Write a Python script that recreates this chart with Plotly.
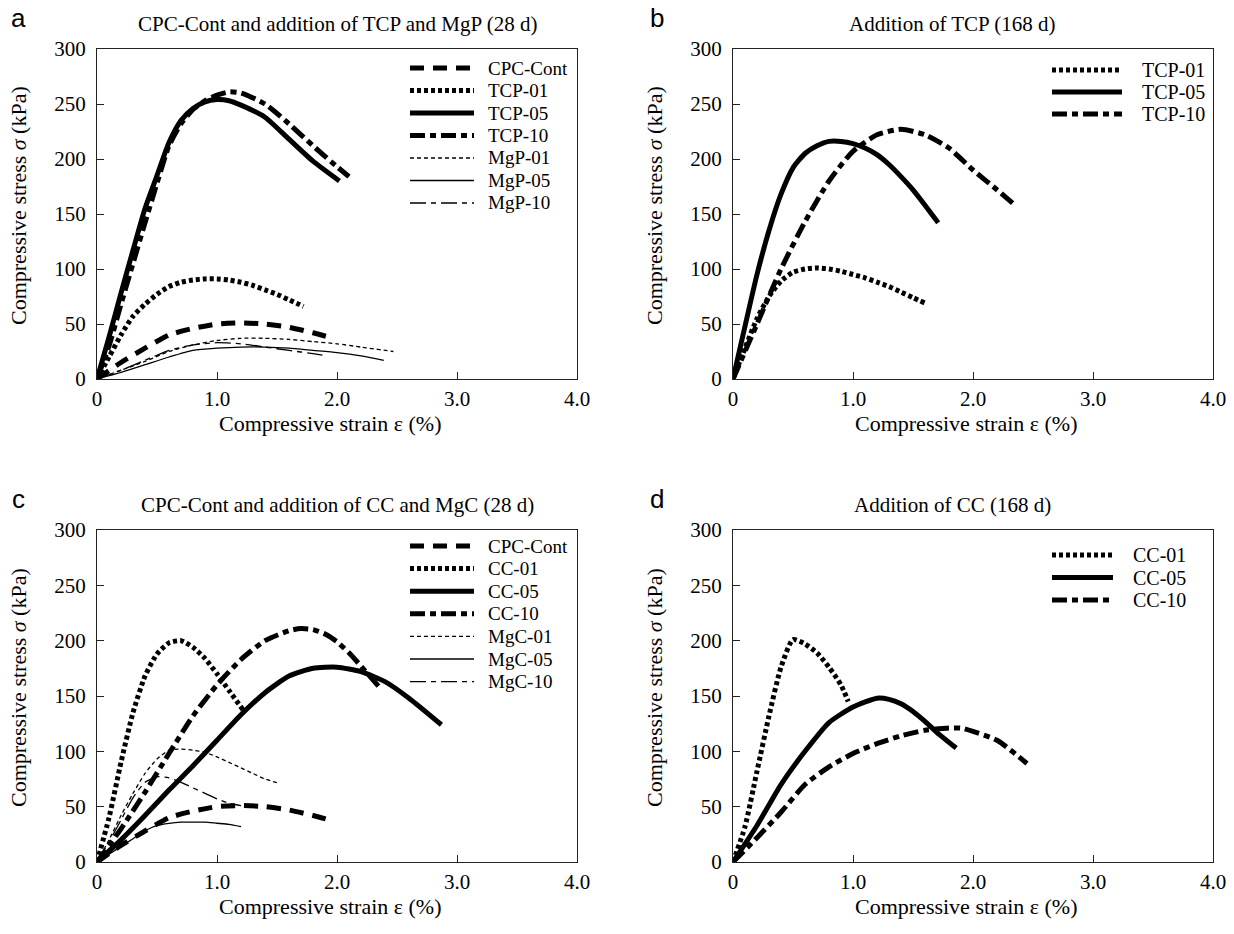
import plotly.graph_objects as go

# ---- data (strain %, stress kPa) ----
cpc_x = [0, 0.2, 0.4, 0.6, 0.8, 1.0, 1.2, 1.4, 1.6, 1.8, 1.97]
cpc_y = [0, 15, 28, 40, 46, 50, 51, 50, 47, 42, 37]

# panel a (28 d)
tcp01_x = [0, 0.1, 0.2, 0.3, 0.4, 0.5, 0.6, 0.7, 0.8, 0.9, 1.0, 1.1, 1.2, 1.3, 1.4, 1.5, 1.6, 1.72]
tcp01_y = [0, 20, 40, 57, 68, 77, 84, 88, 90, 91, 91, 90, 88, 85, 81, 77, 72, 66]
tcp05_x = [0, 0.1, 0.2, 0.3, 0.4, 0.5, 0.6, 0.7, 0.8, 0.9, 1.0, 1.1, 1.2, 1.4, 1.6, 1.8, 2.02]
tcp05_y = [0, 38, 78, 117, 155, 185, 215, 235, 246, 252, 254, 253, 249, 238, 218, 198, 180]
tcp10_x = [0, 0.1, 0.2, 0.3, 0.4, 0.5, 0.6, 0.7, 0.8, 0.9, 1.0, 1.1, 1.2, 1.4, 1.6, 1.8, 2.0, 2.1]
tcp10_y = [0, 30, 68, 105, 142, 178, 212, 232, 245, 253, 258, 261, 260, 250, 232, 212, 193, 184]
mgp01_x = [0, 0.2, 0.4, 0.6, 0.8, 1.0, 1.2, 1.4, 1.6, 1.8, 2.0, 2.2, 2.47]
mgp01_y = [0, 8, 16, 25, 31, 35, 37, 37, 36, 34, 32, 29, 25]
mgp05_x = [0, 0.2, 0.4, 0.6, 0.8, 1.0, 1.2, 1.4, 1.6, 1.8, 2.0, 2.2, 2.39]
mgp05_y = [0, 6, 13, 20, 26, 28, 29, 29, 28, 26, 24, 21, 17]
mgp10_x = [0, 0.2, 0.4, 0.6, 0.8, 1.0, 1.2, 1.4, 1.6, 1.8, 1.92]
mgp10_y = [0, 8, 17, 26, 31, 33, 32, 29, 26, 23, 21]

# panel b (168 d)
tcp01b_x = [0, 0.1, 0.2, 0.3, 0.4, 0.5, 0.6, 0.7, 0.8, 0.9, 1.0, 1.1, 1.2, 1.3, 1.4, 1.5, 1.6]
tcp01b_y = [0, 28, 55, 75, 89, 97, 100, 101, 100, 98, 95, 92, 88, 84, 79, 74, 69]
tcp05b_x = [0, 0.1, 0.2, 0.3, 0.4, 0.5, 0.6, 0.7, 0.8, 0.9, 1.0, 1.1, 1.2, 1.3, 1.4, 1.5, 1.6, 1.71]
tcp05b_y = [0, 48, 95, 135, 168, 192, 205, 212, 216, 216, 214, 210, 204, 195, 184, 172, 158, 142]
tcp10b_x = [0, 0.2, 0.4, 0.6, 0.8, 1.0, 1.2, 1.4, 1.6, 1.8, 2.0, 2.2, 2.36]
tcp10b_y = [0, 50, 100, 143, 180, 207, 222, 227, 222, 210, 190, 172, 157]

# panel c (28 d)
cc01_x = [0, 0.1, 0.2, 0.3, 0.4, 0.5, 0.6, 0.7, 0.8, 0.9, 1.0, 1.1, 1.22]
cc01_y = [0, 40, 90, 135, 168, 188, 198, 200, 194, 184, 170, 155, 137]
cc05_x = [0, 0.2, 0.4, 0.6, 0.8, 1.0, 1.2, 1.4, 1.6, 1.8, 2.0, 2.2, 2.4, 2.6, 2.87]
cc05_y = [0, 20, 42, 65, 87, 110, 133, 153, 168, 175, 176, 172, 163, 148, 124]
cc10_x = [0, 0.2, 0.4, 0.6, 0.8, 1.0, 1.2, 1.4, 1.6, 1.7, 1.8, 1.9, 2.0, 2.1, 2.2, 2.36]
cc10_y = [0, 30, 63, 98, 132, 160, 183, 200, 209, 211, 210, 206, 199, 189, 177, 157]
mgc01_x = [0, 0.1, 0.2, 0.3, 0.4, 0.5, 0.6, 0.7, 0.8, 0.9, 1.0, 1.1, 1.2, 1.3, 1.4, 1.52]
mgc01_y = [0, 20, 42, 62, 80, 93, 101, 102, 101, 99, 95, 90, 85, 80, 75, 71]
mgc05_x = [0, 0.1, 0.2, 0.3, 0.4, 0.5, 0.6, 0.7, 0.8, 0.9, 1.0, 1.1, 1.2]
mgc05_y = [0, 7, 14, 21, 28, 33, 35, 36, 36, 36, 35, 34, 32]
mgc10_x = [0, 0.1, 0.2, 0.3, 0.4, 0.5, 0.6, 0.7, 0.8, 0.9, 1.0, 1.1, 1.2]
mgc10_y = [0, 18, 38, 58, 72, 77, 76, 72, 67, 62, 57, 53, 51]

# panel d (168 d)
cc01d_x = [0, 0.1, 0.2, 0.3, 0.4, 0.5, 0.6, 0.7, 0.8, 0.9, 0.96]
cc01d_y = [0, 32, 82, 132, 176, 201, 197, 189, 176, 160, 145]
cc05d_x = [0, 0.2, 0.4, 0.6, 0.8, 1.0, 1.2, 1.3, 1.4, 1.5, 1.6, 1.7, 1.86]
cc05d_y = [0, 33, 70, 100, 126, 140, 148, 147, 143, 136, 127, 117, 103]
cc10d_x = [0, 0.2, 0.4, 0.6, 0.8, 1.0, 1.2, 1.4, 1.6, 1.8, 1.9, 2.0, 2.2, 2.45]
cc10d_y = [0, 22, 45, 70, 86, 98, 107, 114, 119, 121, 121, 118, 110, 89]

x_ticks = [0, 1, 2, 3, 4]
x_ticktext = ["0", "1.0", "2.0", "3.0", "4.0"]
y_ticks = [0, 50, 100, 150, 200, 250, 300]

# body margin is removed in the page (post_script below), so the figure fills the window
W, H = 1234, 934
SERIF = "Liberation Serif"

def px(x):
    return x / W

def py(y):
    return 1 - y / H

# line styles
THICK = 5
THIN = 1.3
st = {
    "dash": dict(color="black", width=THICK, dash="14px,9px"),
    "dot": dict(color="black", width=THICK, dash="4px,3px"),
    "solid": dict(color="black", width=THICK),
    "dashdot": dict(color="black", width=THICK, dash="15px,5px,6px,5px"),
    "tdot": dict(color="black", width=THIN, dash="4px,3px"),
    "tsolid": dict(color="black", width=THIN),
    "tdashdot": dict(color="black", width=THIN, dash="16px,5px,5px,5px"),
}

fig = go.Figure()

# plot areas in window pixels (left, right, top, bottom)
panels = {
    "": (97, 577, 49, 379),
    "2": (733, 1213, 49, 379),
    "3": (97, 577, 530, 862),
    "4": (733, 1213, 530, 862),
}

legend_rows = {"": [], "2": [], "3": [], "4": []}

def add(x, y, name, style, ax):
    fig.add_trace(go.Scatter(
        x=x, y=y, name=name, mode="lines",
        line=dict(st[style], shape="spline", smoothing=0.6),
        xaxis="x" + ax, yaxis="y" + ax, showlegend=False,
    ))
    legend_rows[ax].append((name, style))

# a
add(cpc_x, cpc_y, "CPC-Cont", "dash", "")
add(tcp01_x, tcp01_y, "TCP-01", "dot", "")
add(tcp05_x, tcp05_y, "TCP-05", "solid", "")
add(tcp10_x, tcp10_y, "TCP-10", "dashdot", "")
add(mgp01_x, mgp01_y, "MgP-01", "tdot", "")
add(mgp05_x, mgp05_y, "MgP-05", "tsolid", "")
add(mgp10_x, mgp10_y, "MgP-10", "tdashdot", "")
# b
add(tcp01b_x, tcp01b_y, "TCP-01", "dot", "2")
add(tcp05b_x, tcp05b_y, "TCP-05", "solid", "2")
add(tcp10b_x, tcp10b_y, "TCP-10", "dashdot", "2")
# c
add(cpc_x, cpc_y, "CPC-Cont", "dash", "3")
add(cc01_x, cc01_y, "CC-01", "dot", "3")
add(cc05_x, cc05_y, "CC-05", "solid", "3")
add(cc10_x, cc10_y, "CC-10", "dashdot", "3")
add(mgc01_x, mgc01_y, "MgC-01", "tdot", "3")
add(mgc05_x, mgc05_y, "MgC-05", "tsolid", "3")
add(mgc10_x, mgc10_y, "MgC-10", "tdashdot", "3")
# d
add(cc01d_x, cc01d_y, "CC-01", "dot", "4")
add(cc05d_x, cc05d_y, "CC-05", "solid", "4")
add(cc10d_x, cc10d_y, "CC-10", "dashdot", "4")

layout = dict(
    width=W, height=H,
    margin=dict(l=0, r=0, t=0, b=0),
    paper_bgcolor="white", plot_bgcolor="white",
    font=dict(family=SERIF, size=18, color="black"),
    showlegend=False,
)

axis_common = dict(
    showgrid=False, zeroline=False, showline=True, linecolor="#222",
    linewidth=1, mirror=True, ticks="inside", ticklen=7, tickcolor="#222",
    tickfont=dict(family=SERIF, size=21, color="black"),
    automargin=False, ticklabeloverflow="allow",
)

for ax, (l, r, t, b) in panels.items():
    layout["xaxis" + ax] = dict(
        axis_common, domain=[px(l), px(r)], range=[0, 4],
        tickvals=x_ticks, ticktext=x_ticktext,
        anchor="y" + ax, ticklabelstandoff=1,
    )
    layout["yaxis" + ax] = dict(
        axis_common, domain=[py(b), py(t)], range=[0, 300],
        tickvals=y_ticks, anchor="x" + ax, ticklabelstandoff=6,
    )

fig.update_layout(**layout)

# hand-built legends (sample line + label), one per panel
legend_geo = {
    # sample x0, sample x1, text x, first row y, row step, font size
    "": (410, 474, 486, 68, 22.5, 19),
    "2": (1052, 1122, 1140, 70, 22, 20),
    "3": (410, 474, 486, 546, 22.6, 19),
    "4": (1052, 1113, 1131, 555, 22.5, 20),
}
for ax, rows in legend_rows.items():
    x0, x1, tx, y0, dy, fs = legend_geo[ax]
    for i, (name, style) in enumerate(rows):
        yy = py(y0 + i * dy)
        fig.add_shape(type="line", xref="paper", yref="paper",
                      x0=px(x0), x1=px(x1), y0=yy, y1=yy, line=st[style])
        fig.add_annotation(x=px(tx), y=yy, xref="paper", yref="paper",
                           text=name, showarrow=False, xanchor="left", yanchor="middle",
                           font=dict(family=SERIF, size=fs))

titles = [
    ("a", "CPC-Cont and addition of TCP and MgP (28 d)", 337, 24),
    ("b", "Addition of TCP (168 d)", 952, 24),
    ("c", "CPC-Cont and addition of CC and MgC (28 d)", 337, 505),
    ("d", "Addition of CC (168 d)", 952, 505),
]
letter_x = {"a": 18, "b": 657, "c": 18, "d": 657}
for letter, text, cx, cy in titles:
    fig.add_annotation(x=px(cx), y=py(cy), xref="paper", yref="paper",
                       text=text, showarrow=False, xanchor="center", yanchor="middle",
                       font=dict(family=SERIF, size=21))
    fig.add_annotation(x=px(letter_x[letter]), y=py(cy - 6), xref="paper", yref="paper",
                       text=letter, showarrow=False, xanchor="center", yanchor="middle",
                       font=dict(family="Liberation Sans", size=26))

for ax, (l, r, t, b) in panels.items():
    fig.add_annotation(x=px((l + r) / 2 - 7), y=py(b + 44), xref="paper", yref="paper",
                       text="Compressive strain ε (%)", showarrow=False,
                       xanchor="center", yanchor="middle",
                       font=dict(family=SERIF, size=22))
    fig.add_annotation(x=px(l - 79), y=py((t + b) / 2 - 8), xref="paper", yref="paper",
                       text="Compressive stress <i>σ</i> (kPa)", showarrow=False,
                       textangle=-90, xanchor="center", yanchor="middle",
                       font=dict(family=SERIF, size=22))

fig.write_html(
    "out.html",
    config={"displayModeBar": False},
    post_script="document.body.style.margin='0';document.body.style.overflow='hidden';",
)
